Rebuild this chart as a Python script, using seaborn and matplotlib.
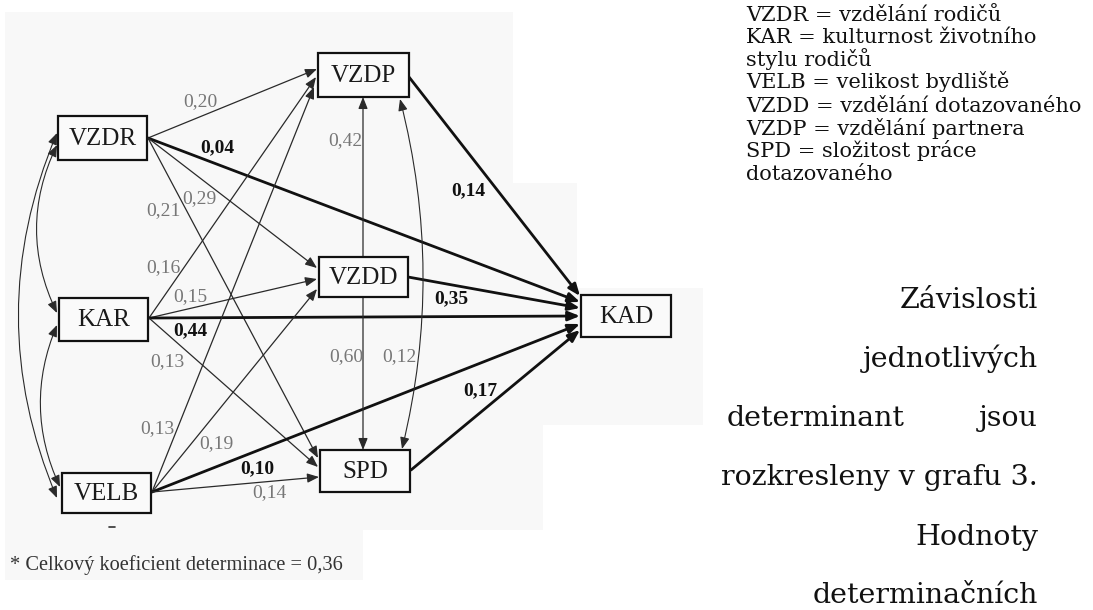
import matplotlib
matplotlib.use("Agg")
import matplotlib.pyplot as plt
from matplotlib.patches import FancyArrowPatch, Rectangle, Polygon
import seaborn as sns

# --- data: path model (nodes, direct effects, correlations) ---
nodes = ["VZDR", "KAR", "VELB", "VZDP", "VZDD", "SPD", "KAD"]

edge_src = ["VZDR", "VZDR", "VZDR", "VZDR",
            "KAR", "KAR", "KAR", "KAR",
            "VELB", "VELB", "VELB", "VELB",
            "VZDP", "VZDD", "SPD", "VZDD", "VZDD"]
edge_dst = ["VZDP", "KAD", "VZDD", "SPD",
            "VZDP", "VZDD", "KAD", "SPD",
            "VZDP", "VZDD", "KAD", "SPD",
            "KAD", "KAD", "KAD", "VZDP", "SPD"]
edge_coef = ["0,20", "0,04", "0,29", "0,21",
             "0,16", "0,15", "0,44", "0,13",
             "0,13", "0,19", "0,10", "0,14",
             "0,14", "0,35", "0,17", "0,42", "0,60"]

corr_a = ["VZDR", "VZDR", "KAR", "VZDP"]
corr_b = ["VELB", "KAR", "VELB", "SPD"]
corr_coef = ["", "", "", "0,12"]

legend_lines = ["VZDR = vzdělání rodičů", "KAR = kulturnost životního",
                "stylu rodičů", "VELB = velikost bydliště",
                "VZDD = vzdělání dotazovaného", "VZDP = vzdělání partnera",
                "SPD = složitost práce", "dotazovaného"]
footnote = "* Celkový koeficient determinace = 0,36"

# --- layout (pixel coordinates, y down) ---
box = {  # left, top, width, height
    "VZDR": (58, 116, 89, 44), "KAR": (59, 298, 89, 43), "VELB": (62, 473, 89, 40),
    "VZDP": (318, 53, 91, 44), "VZDD": (319, 257, 89, 40), "SPD": (320, 450, 90, 42),
    "KAD": (581, 295, 90, 42),
}
src_pt = {"VZDR": (148, 138), "KAR": (149, 318), "VELB": (152, 492),
          "VZDP": (409, 77), "VZDD": (408, 277), "SPD": (411, 470)}
dst_pt = {
    ("VZDR", "VZDP"): (317, 69), ("KAR", "VZDP"): (316, 77), ("VELB", "VZDP"): (314, 87),
    ("VZDR", "VZDD"): (317, 268), ("KAR", "VZDD"): (317, 279), ("VELB", "VZDD"): (317, 289),
    ("VZDR", "SPD"): (318, 458), ("KAR", "SPD"): (318, 467), ("VELB", "SPD"): (319, 477),
    ("VZDP", "KAD"): (580, 296), ("VZDR", "KAD"): (580, 302), ("VZDD", "KAD"): (580, 308),
    ("KAR", "KAD"): (580, 316), ("VELB", "KAD"): (580, 324), ("SPD", "KAD"): (580, 330),
}
vert_pts = {("VZDD", "VZDP"): ((363, 257), (363, 97)),
            ("VZDD", "SPD"): ((363, 297), (363, 450))}
label_pos = [(200, 102), (217, 148), (199, 199), (163, 211),
             (163, 268), (190, 297), (190, 331), (167, 362),
             (157, 429), (216, 444), (257, 469), (269, 493),
             (468, 191), (451, 299), (480, 391), (345, 141), (346, 357)]
corr_pts = [((57, 133), (57, 498), 0.21), ((57, 145), (57, 313), 0.24),
            ((57, 325), (60, 487), 0.22), ((400, 99), (402, 449), -0.125)]
corr_label_pos = [None, None, None, (399, 357)]

sns.set_theme(style="white")
plt.rcParams["font.family"] = ["Liberation Serif", "DejaVu Serif"]

fig = plt.figure(figsize=(10.93, 6.10), dpi=100)
ax = fig.add_axes([0, 0, 1, 1])
ax.set_xlim(0, 1093)
ax.set_ylim(610, 0)
ax.axis("off")

# light grey scanned background
scan = [(5, 12), (513, 12), (513, 183), (577, 183), (577, 288), (703, 288),
        (703, 425), (543, 425), (543, 530), (363, 530), (363, 580), (5, 580)]
ax.add_patch(Polygon(scan, closed=True, facecolor="#f8f8f8", edgecolor="none", zorder=0))

head = "-|>,head_length=0.7,head_width=0.28"
dhead = "<|-|>,head_length=0.7,head_width=0.28"

# direct effects
for s, d, c, lp in zip(edge_src, edge_dst, edge_coef, label_pos):
    bold = d == "KAD"
    if (s, d) in vert_pts:
        a, b = vert_pts[(s, d)]
    else:
        a, b = src_pt[s], dst_pt[(s, d)]
    arr = FancyArrowPatch(a, b, arrowstyle=head, mutation_scale=10,
                          shrinkA=0, shrinkB=0,
                          lw=2.0 if bold else 0.9,
                          color="#111111" if bold else "#2a2a2a", zorder=2)
    ax.add_patch(arr)
    ax.text(lp[0], lp[1], c, ha="center", va="center",
            fontsize=14, fontweight="bold" if bold else "normal",
            color="#111111" if bold else "#777777", zorder=4)

# correlations (curved double arrows)
for (a, b, rad), c, lp in zip(corr_pts, corr_coef, corr_label_pos):
    arr = FancyArrowPatch(a, b, arrowstyle=dhead, mutation_scale=10,
                          connectionstyle=f"arc3,rad={rad}",
                          shrinkA=0, shrinkB=0, lw=0.8, color="#2a2a2a", zorder=2)
    ax.add_patch(arr)
    if c:
        ax.text(lp[0], lp[1], c, ha="center", va="center", fontsize=14,
                color="#777777", zorder=4)

# node boxes
for n in nodes:
    x, y, w, h = box[n]
    ax.add_patch(Rectangle((x, y), w, h, facecolor="#fafafa", edgecolor="#111111",
                           lw=1.6, zorder=3))
    ax.text(x + w / 2, y + h / 2 + 1, n, ha="center", va="center",
            fontsize=18, color="#1a1a1a", zorder=4)

ax.plot([109, 115], [527, 527], color="#333333", lw=1.2)
ax.text(10, 570, footnote, ha="left", va="baseline", fontsize=14.7, color="#333333")

# document text on the right
leg_base = [21, 43, 66, 88, 112, 135, 157, 180]
for t, yb in zip(legend_lines, leg_base):
    ax.text(746, yb, t, ha="left", va="baseline", fontsize=15,
            family="DejaVu Serif", color="#111111")

para_right = ["Závislosti", "jednotlivých", None, "rozkresleny v grafu 3.",
              "Hodnoty", "determinačních"]
para_base = [308, 367, 426, 485, 545, 603]
for t, yb in zip(para_right, para_base):
    if t is None:
        ax.text(727, yb, "determinant", ha="left", va="baseline", fontsize=20.5,
                family="DejaVu Serif", color="#111111")
        ax.text(1038, yb, "jsou", ha="right", va="baseline", fontsize=20.5,
                family="DejaVu Serif", color="#111111")
    else:
        ax.text(1038, yb, t, ha="right", va="baseline", fontsize=20.5,
                family="DejaVu Serif", color="#111111")

fig.savefig("out.png", dpi=100)
